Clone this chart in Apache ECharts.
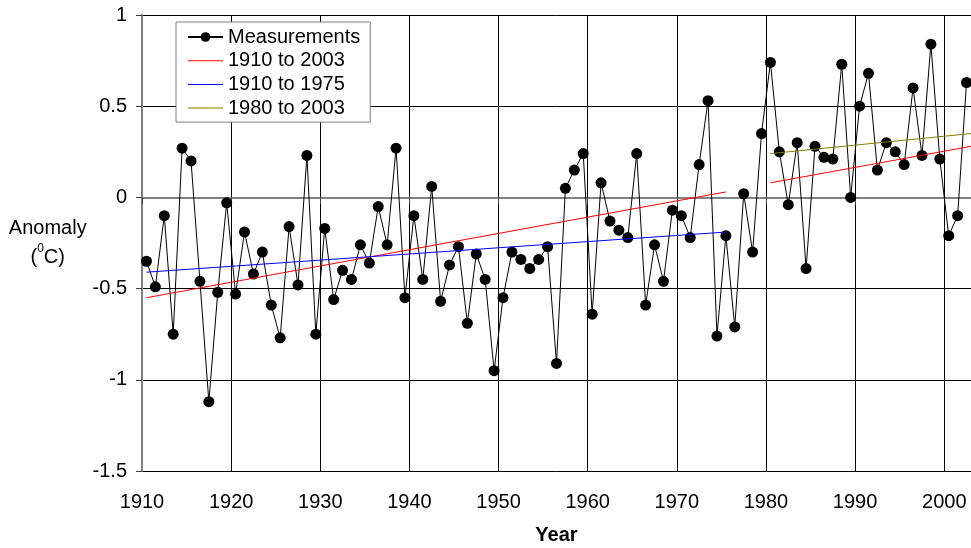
<!DOCTYPE html>
<html>
<head>
<meta charset="utf-8">
<script src="https://cdn.jsdelivr.net/npm/echarts@6/dist/echarts.min.js"></script>
<style>
html,body{margin:0;padding:0;background:#fff;}
#chart{width:971px;height:548px;}
</style>
</head>
<body>
<div id="chart"></div>
<script>
// Years of measurement (plotted at mid-year)
const years = [1910,1911,1912,1913,1914,1915,1916,1917,1918,1919,
  1920,1921,1922,1923,1924,1925,1926,1927,1928,1929,
  1930,1931,1932,1933,1934,1935,1936,1937,1938,1939,
  1940,1941,1942,1943,1944,1945,1946,1947,1948,1949,
  1950,1951,1952,1953,1954,1955,1956,1957,1958,1959,
  1960,1961,1962,1963,1964,1965,1966,1967,1968,1969,
  1970,1971,1972,1973,1974,1975,1976,1977,1978,1979,
  1980,1981,1982,1983,1984,1985,1986,1987,1988,1989,
  1990,1991,1992,1993,1994,1995,1996,1997,1998,1999,
  2000,2001,2002];
// Temperature anomaly (°C)
const anomaly = [-0.35,-0.49,-0.10,-0.75,0.27,0.20,-0.46,-1.12,-0.52,-0.03,
  -0.53,-0.19,-0.42,-0.30,-0.59,-0.77,-0.16,-0.48,0.23,-0.75,
  -0.17,-0.56,-0.40,-0.45,-0.26,-0.36,-0.05,-0.26,0.27,-0.55,
  -0.10,-0.45,0.06,-0.57,-0.37,-0.27,-0.69,-0.31,-0.45,-0.95,
  -0.55,-0.30,-0.34,-0.39,-0.34,-0.27,-0.91,0.05,0.15,0.24,
  -0.64,0.08,-0.13,-0.18,-0.22,0.24,-0.59,-0.26,-0.46,-0.07,
  -0.10,-0.22,0.18,0.53,-0.76,-0.21,-0.71,0.02,-0.30,0.35,
  0.74,0.25,-0.04,0.30,-0.39,0.28,0.22,0.21,0.73,0.00,
  0.50,0.68,0.15,0.30,0.25,0.18,0.60,0.23,0.84,0.21,
  -0.21,-0.10,0.63];
// Trend line end points [year, anomaly]
const trend1910to2003early = [[1910.5,-0.55],[1975.5,0.03]];
const trend1910to2003late = [[1980.5,0.08],[2003,0.28]];
const trend1910to1975 = [[1910.5,-0.41],[1975.5,-0.19]];
const trend1980to2003 = [[1980.5,0.24],[2003,0.35]];
// Axis ticks
const xTicks = {min:1910, max:2003, step:10};
const yTicks = {min:-1.5, max:1, step:0.5};
const seriesNames = ['Measurements','1910 to 2003','1910 to 1975','1980 to 2003'];

const FONT = 'Liberation Sans, Arial, sans-serif';
const measured = years.map((y,i)=>[y+0.5, anomaly[i]]);
const LINE_ICON = 'path://M0,0L35,0L35,1L0,1Z';

const chart = echarts.init(document.getElementById('chart'), null, {renderer:'canvas'});
chart.setOption({
  animation:false,
  backgroundColor:'#fff',
  grid:{left:142, right:0, top:15, bottom:77, containLabel:false, outerBoundsMode:'none'},
  legend:{
    data:[{name:seriesNames[0]},
          {name:seriesNames[1], icon:LINE_ICON},
          {name:seriesNames[2], icon:LINE_ICON},
          {name:seriesNames[3], icon:LINE_ICON}],
    orient:'vertical',
    left:176, top:22,
    backgroundColor:'#fff',
    borderColor:'#808080', borderWidth:1,
    padding:[5,10,4,11],
    itemWidth:35, itemHeight:12, itemGap:3.7,
    symbolKeepAspect:true,
    textStyle:{fontFamily:FONT, fontSize:20, color:'#000', lineHeight:20}
  },
  xAxis:{
    type:'value', min:xTicks.min, max:xTicks.max, interval:xTicks.step,
    name:'Year', nameLocation:'middle', nameGap:54,
    nameTextStyle:{fontFamily:FONT, fontSize:20, fontWeight:'bold', color:'#000'},
    axisLine:{lineStyle:{color:'#808080', width:2}},
    axisTick:{show:true, length:7, lineStyle:{color:'#404040'}},
    axisLabel:{fontFamily:FONT, fontSize:20, color:'#000', margin:21, showMaxLabel:false,
      formatter:v=> (v % 10 === 0 ? String(v) : '')},
    splitLine:{show:true, lineStyle:{color:'#000', width:1}}
  },
  yAxis:{
    type:'value', min:yTicks.min, max:yTicks.max, interval:yTicks.step,
    name:'{a|Anomaly}\n{a|(}{s|0}{a|C)}', nameLocation:'middle', nameGap:93, nameRotate:0,
    nameTextStyle:{align:'center', verticalAlign:'middle',
      rich:{a:{fontFamily:FONT, fontSize:20, color:'#000', lineHeight:29},
            s:{fontFamily:FONT, fontSize:12, color:'#000', verticalAlign:'top', lineHeight:29, padding:[0,0,7,0]}}},
    axisLine:{show:true, lineStyle:{color:'#808080', width:2}},
    axisTick:{show:true, length:6, lineStyle:{color:'#404040'}},
    axisLabel:{fontFamily:FONT, fontSize:20, color:'#000', margin:15},
    splitLine:{show:true, lineStyle:{color:'#000', width:1}}
  },
  series:[
    {name:seriesNames[0], type:'line', data:measured, symbol:'circle', symbolSize:11,
      itemStyle:{color:'#000'}, lineStyle:{color:'#000', width:1}, z:2},
    {name:seriesNames[1], type:'line', data:trend1910to2003early, symbol:'none',
      lineStyle:{color:'#ff0000', width:1}, itemStyle:{color:'#ff0000'}, z:3},
    {name:seriesNames[1], type:'line', data:trend1910to2003late, symbol:'none',
      lineStyle:{color:'#ff0000', width:1}, itemStyle:{color:'#ff0000'}, z:3},
    {name:seriesNames[2], type:'line', data:trend1910to1975, symbol:'none',
      lineStyle:{color:'#0000ff', width:1}, itemStyle:{color:'#0000ff'}, z:3},
    {name:seriesNames[3], type:'line', data:trend1980to2003, symbol:'none',
      lineStyle:{color:'#808000', width:1}, itemStyle:{color:'#808000'}, z:3}
  ]
});
</script>
</body>
</html>
